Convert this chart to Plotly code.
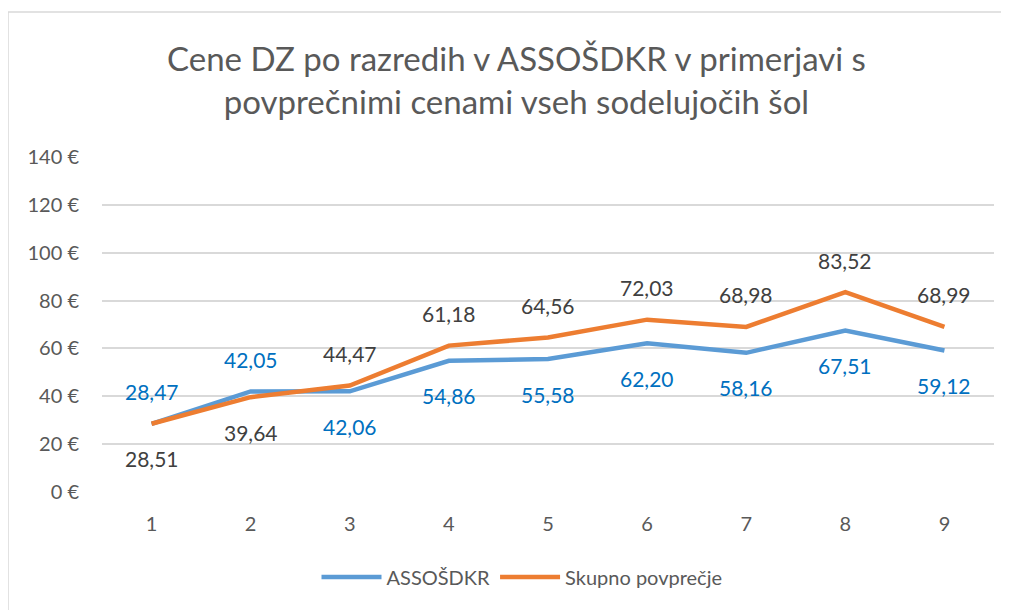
import plotly.graph_objects as go

categories = [1, 2, 3, 4, 5, 6, 7, 8, 9]
assosdkr = [28.47, 42.05, 42.06, 54.86, 55.58, 62.20, 58.16, 67.51, 59.12]
povprecje = [28.51, 39.64, 44.47, 61.18, 64.56, 72.03, 68.98, 83.52, 68.99]
assos_label_side = ["up", "up", "down", "down", "down", "down", "down", "down", "down"]
povp_label_side = ["down", "down", "up", "up", "up", "up", "up", "up", "up"]
y_ticks = [0, 20, 40, 60, 80, 100, 120, 140]
y_tick_labels = [f"{v} €" for v in y_ticks]

FONT = "Lato"
BLUE = "#5B9BD5"
ORANGE = "#ED7D31"

def fmt(v):
    return f"{v:.2f}".replace(".", ",")

fig = go.Figure()
fig.add_trace(go.Scatter(x=categories, y=assosdkr, mode="lines", name="ASSOŠDKR",
                         line=dict(color=BLUE, width=4.5)))
fig.add_trace(go.Scatter(x=categories, y=povprecje, mode="lines", name="Skupno povprečje",
                         line=dict(color=ORANGE, width=4.5)))

annotations = []
for c, v, s in zip(categories, assosdkr, assos_label_side):
    annotations.append(dict(x=c, y=v, xref="x", yref="y", text=fmt(v), showarrow=False,
                            yshift=32 if s == "up" else -35,
                            font=dict(family=FONT, size=21, color="#0070C0")))
for c, v, s in zip(categories, povprecje, povp_label_side):
    annotations.append(dict(x=c, y=v, xref="x", yref="y", text=fmt(v), showarrow=False,
                            yshift=32 if s == "up" else -35,
                            font=dict(family=FONT, size=21, color="#404040")))

# page offset (body margin) compensation
OFF = 8
W, H = 1001, 602
px0, px1, py0, py1 = 102 - OFF, 994 - OFF, 157 - OFF, 492 - OFF
L, R, T, B = px0, W - px1, py0, H - py1
pw, ph = px1 - px0, py1 - py0

def sx(x):
    return (x - OFF - px0) / pw

def sy(y):
    return (py1 - (y - OFF)) / ph

annotations.append(dict(xref="paper", yref="paper", x=sx(516), y=sy(80),
                        xanchor="center", yanchor="middle", showarrow=False,
                        text="Cene DZ po razredih v ASSOŠDKR v primerjavi s<br>povprečnimi cenami vseh sodelujočih šol",
                        font=dict(family=FONT, size=33, color="#595959")))

fig.update_layout(
    width=W, height=H,
    margin=dict(l=L, r=R, t=T, b=B),
    paper_bgcolor="white", plot_bgcolor="white",
    font=dict(family=FONT, color="#595959", size=20),
    xaxis=dict(range=[0.5, 9.5], tickvals=categories, showgrid=False, zeroline=False,
               showline=False, ticks="", ticklabelstandoff=18,
               tickfont=dict(size=20, color="#595959")),
    yaxis=dict(range=[0, 140], tickvals=y_ticks, ticktext=y_tick_labels,
               showgrid=True, gridcolor="#D9D9D9", gridwidth=1.5, zeroline=False,
               showline=False, ticks="", ticklabelstandoff=22,
               tickfont=dict(size=20, color="#595959")),
    legend=dict(orientation="h", x=sx(522), xanchor="center", y=sy(577),
                yanchor="middle", itemwidth=60, font=dict(size=20, color="#595959")),
    annotations=annotations,
    shapes=[dict(type="rect", xref="paper", yref="paper",
                 x0=sx(8), x1=sx(1005),
                 y0=sy(640), y1=sy(12),
                 line=dict(color="#D9D9D9", width=1.5), fillcolor="rgba(0,0,0,0)", layer="below")],
)

fig.write_html("out.html")
